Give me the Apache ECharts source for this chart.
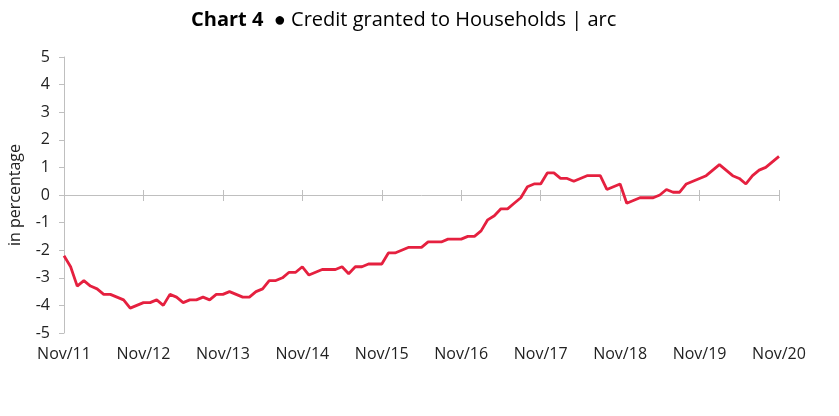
<!DOCTYPE html>
<html><head><meta charset="utf-8">
<script src="https://cdn.jsdelivr.net/npm/echarts@6/dist/echarts.min.js"></script>
<style>html,body{margin:0;padding:0;background:#fff}#c{width:839px;height:416px}</style>
</head><body><div id="c"></div>
<script>
const months = [
"Nov/11","Dec/11",
"Jan/12","Feb/12","Mar/12","Apr/12","May/12","Jun/12","Jul/12","Aug/12","Sep/12","Oct/12","Nov/12","Dec/12",
"Jan/13","Feb/13","Mar/13","Apr/13","May/13","Jun/13","Jul/13","Aug/13","Sep/13","Oct/13","Nov/13","Dec/13",
"Jan/14","Feb/14","Mar/14","Apr/14","May/14","Jun/14","Jul/14","Aug/14","Sep/14","Oct/14","Nov/14","Dec/14",
"Jan/15","Feb/15","Mar/15","Apr/15","May/15","Jun/15","Jul/15","Aug/15","Sep/15","Oct/15","Nov/15","Dec/15",
"Jan/16","Feb/16","Mar/16","Apr/16","May/16","Jun/16","Jul/16","Aug/16","Sep/16","Oct/16","Nov/16","Dec/16",
"Jan/17","Feb/17","Mar/17","Apr/17","May/17","Jun/17","Jul/17","Aug/17","Sep/17","Oct/17","Nov/17","Dec/17",
"Jan/18","Feb/18","Mar/18","Apr/18","May/18","Jun/18","Jul/18","Aug/18","Sep/18","Oct/18","Nov/18","Dec/18",
"Jan/19","Feb/19","Mar/19","Apr/19","May/19","Jun/19","Jul/19","Aug/19","Sep/19","Oct/19","Nov/19","Dec/19",
"Jan/20","Feb/20","Mar/20","Apr/20","May/20","Jun/20","Jul/20","Aug/20","Sep/20","Oct/20","Nov/20"
];
const creditHouseholds = [
-2.2,-2.6,-3.3,-3.1,-3.3,-3.4,-3.6,-3.6,-3.7,-3.8,-4.1,-4.0,
-3.9,-3.9,-3.8,-4.0,-3.6,-3.7,-3.9,-3.8,-3.8,-3.7,-3.8,-3.6,
-3.6,-3.5,-3.6,-3.7,-3.7,-3.5,-3.4,-3.1,-3.1,-3.0,-2.8,-2.8,
-2.6,-2.9,-2.8,-2.7,-2.7,-2.7,-2.6,-2.85,-2.6,-2.6,-2.5,-2.5,
-2.5,-2.1,-2.1,-2.0,-1.9,-1.9,-1.9,-1.7,-1.7,-1.7,-1.6,-1.6,
-1.6,-1.5,-1.5,-1.3,-0.9,-0.75,-0.5,-0.5,-0.3,-0.1,0.3,0.4,
0.4,0.8,0.8,0.6,0.6,0.5,0.6,0.7,0.7,0.7,0.2,0.3,
0.4,-0.3,-0.2,-0.1,-0.1,-0.1,0.0,0.2,0.1,0.1,0.4,0.5,
0.6,0.7,0.9,1.1,0.9,0.7,0.6,0.4,0.7,0.9,1.0,1.2,
1.4
];
const yMin = -5, yMax = 5, yStep = 1;

const chart = echarts.init(document.getElementById('c'), null, {renderer: 'canvas'});
const FONT = 'Open Sans';
const gridPos = {left: 64, right: 60, top: 57, bottom: 83, containLabel: false, outerBoundsMode: 'none'};
const gray = '#BFBFBF';
chart.setOption({
  animation: false,
  backgroundColor: '#fff',
  title: {
    text: '{b|Chart 4}{n|  ● Credit granted to Households | arc}',
    left: 186, top: 5,
    textStyle: {
      rich: {
        b: {fontFamily: FONT, fontSize: 20, fontWeight: 'bold', color: '#000'},
        n: {fontFamily: FONT, fontSize: 20, fontWeight: 'normal', color: '#000'}
      }
    }
  },
  grid: [
    Object.assign({}, gridPos),
    Object.assign({}, gridPos)
  ],
  xAxis: [
    {
      type: 'category', data: months, boundaryGap: false, gridIndex: 0,
      position: 'bottom',
      axisLine: {show: false, onZero: false},
      axisTick: {show: false},
      axisLabel: {interval: 11, margin: 13, fontFamily: FONT, fontSize: 16, color: '#222'},
      splitLine: {show: false}
    },
    {
      type: 'category', data: months, boundaryGap: false, gridIndex: 0,
      position: 'bottom',
      axisLine: {show: true, onZero: true, lineStyle: {color: gray, width: 1}},
      axisTick: {show: true, interval: 11, length: 6, lineStyle: {color: gray}},
      axisLabel: {show: false},
      splitLine: {show: false}
    },
    {
      type: 'category', data: months, boundaryGap: false, gridIndex: 1,
      position: 'top',
      axisLine: {show: false, onZero: true},
      axisTick: {show: true, interval: 11, length: 5, lineStyle: {color: gray}},
      axisLabel: {show: false},
      splitLine: {show: false}
    }
  ],
  yAxis: [
    {
      type: 'value', min: yMin, max: yMax, interval: yStep, gridIndex: 0,
      name: 'in percentage', nameLocation: 'middle', nameGap: 41, nameRotate: 90,
      nameTextStyle: {fontFamily: FONT, fontSize: 16, color: '#222'},
      axisLine: {show: true, onZero: false, lineStyle: {color: gray}},
      axisTick: {show: true, length: 5, lineStyle: {color: gray}},
      axisLabel: {margin: 14, fontFamily: FONT, fontSize: 16, color: '#222'},
      splitLine: {show: false}
    },
    {
      type: 'value', min: yMin, max: yMax, interval: yStep, gridIndex: 1,
      show: false
    }
  ],
  series: [{
    type: 'line', data: creditHouseholds, xAxisIndex: 1, yAxisIndex: 0,
    showSymbol: false, symbol: 'none',
    lineStyle: {color: '#E5203F', width: 2.8},
    z: 5
  }]
});
</script>
</body></html>
